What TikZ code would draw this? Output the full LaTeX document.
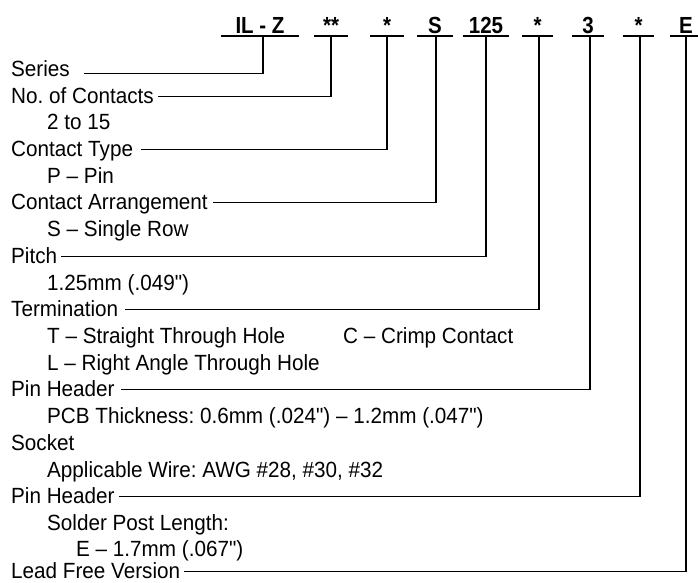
\documentclass[tikz,border=0pt]{standalone}
\usepackage{fontspec}
\setmainfont{Liberation Sans}[FakeStretch=0.94,Ligatures=TeXOff]
\newfontfamily\codefont{Liberation Sans}[FakeStretch=0.88]
\usetikzlibrary{positioning}
\frenchspacing

\begin{document}
\begin{tikzpicture}[x=1pt,y=-1pt,
  code/.style={font=\codefont\bfseries\fontsize{23.3pt}{24pt}\selectfont,anchor=base,inner sep=0pt},
  lbl/.style={font=\fontsize{22pt}{24pt}\selectfont,anchor=base west,inner sep=0pt},
  bar/.style={line width=2.4pt},
  lead/.style={line width=1.1pt}]
\useasboundingbox (0,0) rectangle (698,582);

% part number fields
\node[code,minimum width=78pt] (il) at (260,33.3) {IL - Z};
\node[code,minimum width=34pt] (nc) at (331,33.3) {**};
\node[code,minimum width=34pt] (ct) at (387,33.3) {*};
\node[code,minimum width=36pt] (ca) at (435,33.3) {S};
\node[code,minimum width=46pt] (pt) at (486,33.3) {125};
\node[code,minimum width=31pt] (tm) at (537.5,33.3) {*};
\node[code,minimum width=32pt] (ph) at (588,33.3) {3};
\node[code,minimum width=31pt] (sp) at (638.5,33.3) {*};
\node[code,minimum width=32pt] (lf) at (686,33.3) {E};

\foreach \f in {il,nc,ct,ca,pt,tm,ph,sp,lf}
  \draw[bar] ([yshift=-2.7pt]\f.base west) -- ([yshift=-2.7pt]\f.base east);

% descriptions
\node[lbl] (series) at (11,76.4) {Series};
\node[lbl] (noc) at (11,103.1) {No. of Contacts};
\node[lbl] (noc1) at (47,129.8) {2 to 15};
\node[lbl] (ctype) at (11,156.5) {Contact Type};
\node[lbl] (ctype1) at (47,183.2) {P – Pin};
\node[lbl] (carr) at (11,209.9) {Contact Arrangement};
\node[lbl] (carr1) at (47,236.7) {S – Single Row};
\node[lbl] (pitch) at (11,263.4) {Pitch};
\node[lbl] (pitch1) at (47,290.1) {1.25mm (.049")};
\node[lbl] (term) at (11,316.8) {Termination};
\node[lbl] (term1) at (47,343.5) {T – Straight Through Hole};
\node[lbl] (term2) at (343,343.5) {C – Crimp Contact};
\node[lbl] (term3) at (47,370.2) {L – Right Angle Through Hole};
\node[lbl] (phdr) at (11,396.9) {Pin Header};
\node[lbl] (phdr1) at (47,423.6) {PCB Thickness: 0.6mm (.024") – 1.2mm (.047")};
\node[lbl] (sock) at (11,450.3) {Socket};
\node[lbl] (sock1) at (47,477.1) {Applicable Wire: AWG \#28, \#30, \#32};
\node[lbl] (post) at (11,503.8) {Pin Header};
\node[lbl] (post1) at (47,530.5) {Solder Post Length:};
\node[lbl] (post2) at (76,556.5) {E – 1.7mm (.067")};
\node[lbl] (lead) at (11,578.5) {Lead Free Version};

% leaders
\draw[lead] ([xshift=3pt,yshift=-2.7pt]il.base) |- ([xshift=14pt,yshift=2.5pt]series.base east);
\draw[lead] ([yshift=-2.7pt]nc.base) |- ([xshift=4pt,yshift=7pt]noc.base east);
\draw[lead] ([yshift=-2.7pt]ct.base) |- ([xshift=8pt,yshift=7pt]ctype.base east);
\draw[lead] ([xshift=1pt,yshift=-2.7pt]ca.base) |- ([xshift=5pt,yshift=7pt]carr.base east);
\draw[lead] ([yshift=-2.7pt]pt.base) |- ([xshift=4pt,yshift=7pt]pitch.base east);
\draw[lead] ([xshift=1.5pt,yshift=-2.7pt]tm.base) |- ([xshift=7pt,yshift=7pt]term.base east);
\draw[lead] ([xshift=2pt,yshift=-2.7pt]ph.base) |- ([xshift=6pt,yshift=7pt]phdr.base east);
\draw[lead] ([xshift=1.5pt,yshift=-2.7pt]sp.base) |- ([xshift=4pt,yshift=7pt]post.base east);
\draw[lead] ([yshift=-2.7pt]lf.base) |- ([xshift=4pt,yshift=7pt]lead.base east);
\end{tikzpicture}
\end{document}
